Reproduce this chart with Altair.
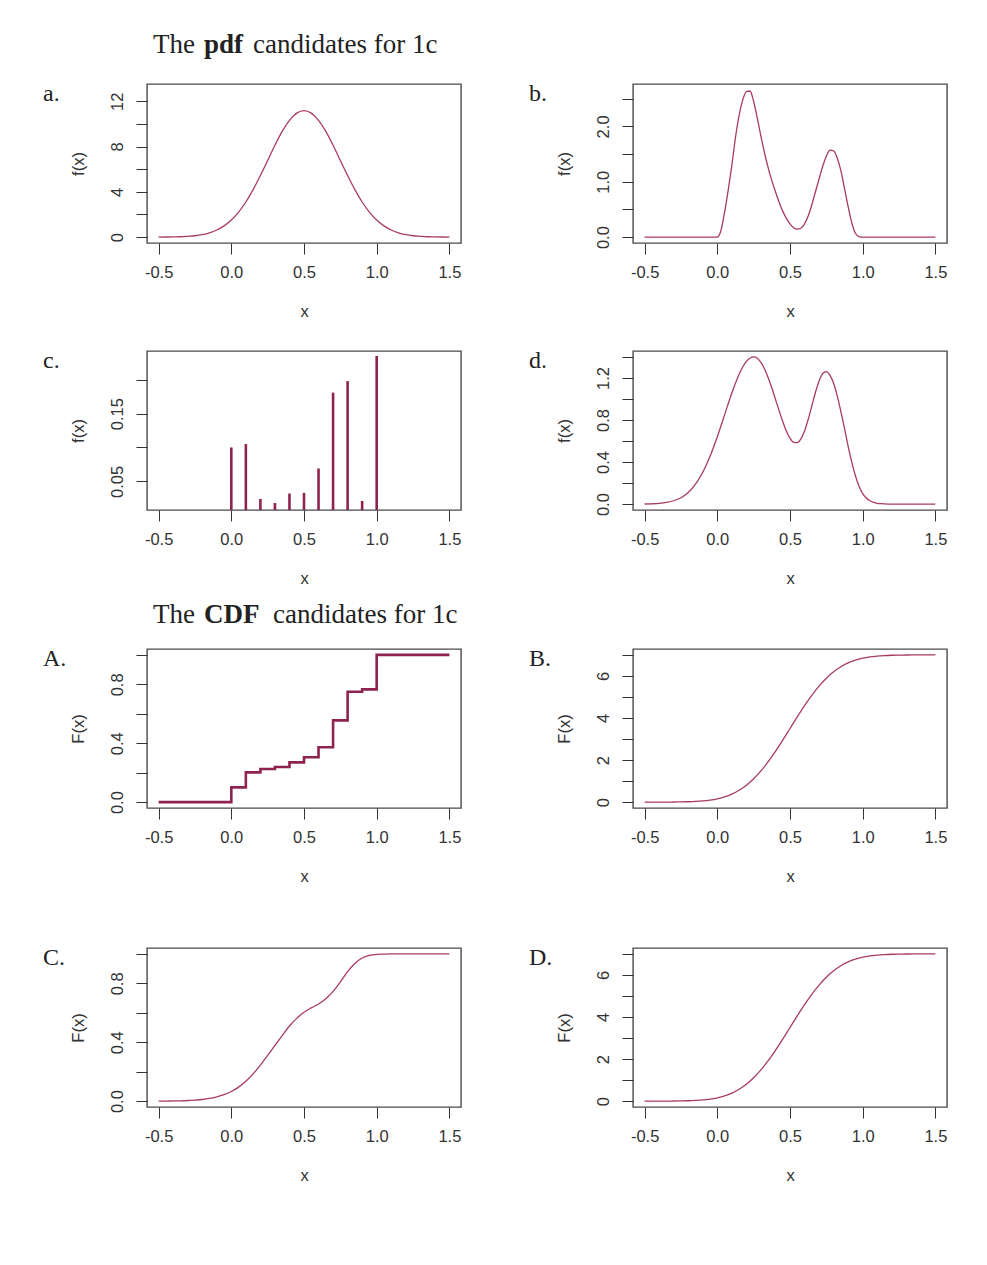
import altair as alt
import pandas as pd

SANS = "Liberation Sans"
SERIF = "Liberation Serif"
INK = "#333333"
THIN = "#A83A64"
THICK = "#8E2350"
W, H = 314, 159

x_domain = [-0.58, 1.58]
x_ticks = [-0.5, 0.0, 0.5, 1.0, 1.5]

grid05 = [-0.5, -0.45, -0.4, -0.35, -0.3, -0.25, -0.2, -0.15, -0.1, -0.05, 0.0,
          0.05, 0.1, 0.15, 0.2, 0.25, 0.3, 0.35, 0.4, 0.45, 0.5, 0.55, 0.6, 0.65,
          0.7, 0.75, 0.8, 0.85, 0.9, 0.95, 1.0, 1.05, 1.1, 1.15, 1.2, 1.25, 1.3,
          1.35, 1.4, 1.45, 1.5]

# ---- pdf a ----
a_x = grid05
a_y = [0.00, 0.01, 0.02, 0.03, 0.07, 0.12, 0.22, 0.38, 0.63, 0.99, 1.51, 2.21,
       3.10, 4.19, 5.44, 6.77, 8.11, 9.33, 10.31, 10.95, 11.17, 10.95, 10.31,
       9.33, 8.11, 6.77, 5.44, 4.19, 3.10, 2.21, 1.51, 0.99, 0.63, 0.38, 0.22,
       0.12, 0.07, 0.03, 0.02, 0.01, 0.00]

# ---- pdf b ----
b_x = [-0.5, -0.25, 0.0, 0.025, 0.05, 0.075, 0.1, 0.125, 0.15, 0.175, 0.2, 0.225,
       0.25, 0.275, 0.3, 0.325, 0.35, 0.375, 0.4, 0.425, 0.45, 0.475, 0.5, 0.525,
       0.55, 0.575, 0.6, 0.625, 0.65, 0.675, 0.7, 0.725, 0.75, 0.775, 0.8, 0.825,
       0.85, 0.875, 0.9, 0.925, 0.95, 0.975, 1.0, 1.25, 1.5]
b_y = [0, 0, 0, 0.12, 0.45, 0.85, 1.30, 1.80, 2.20, 2.48, 2.63, 2.64, 2.45, 2.15,
       1.82, 1.52, 1.25, 1.02, 0.82, 0.63, 0.47, 0.34, 0.24, 0.17, 0.145, 0.16,
       0.24, 0.38, 0.58, 0.82, 1.05, 1.28, 1.46, 1.57, 1.56, 1.43, 1.20, 0.88,
       0.55, 0.26, 0.07, 0.01, 0, 0, 0]

# ---- pmf c ----
c_x = [0.0, 0.1, 0.2, 0.3, 0.4, 0.5, 0.6, 0.7, 0.8, 0.9, 1.0]
c_y = [0.100, 0.105, 0.024, 0.018, 0.032, 0.033, 0.069, 0.181, 0.198, 0.021, 0.235]

# ---- pdf d ----
d_x = [-0.5, -0.45, -0.4, -0.35, -0.3, -0.25, -0.2, -0.15, -0.1, -0.05, 0.0, 0.05,
       0.1, 0.15, 0.2, 0.25, 0.275, 0.3, 0.325, 0.35, 0.375, 0.4, 0.425, 0.45,
       0.475, 0.5, 0.525, 0.55, 0.575, 0.6, 0.625, 0.65, 0.675, 0.7, 0.725, 0.75,
       0.775, 0.8, 0.825, 0.85, 0.875, 0.9, 0.925, 0.95, 0.975, 1.0, 1.025, 1.05,
       1.075, 1.1, 1.125, 1.15, 1.2, 1.3, 1.4, 1.5]
d_y = [0.001, 0.003, 0.007, 0.016, 0.032, 0.061, 0.111, 0.189, 0.303, 0.455,
       0.641, 0.849, 1.057, 1.235, 1.357, 1.400, 1.387, 1.347, 1.285, 1.202,
       1.104, 0.997, 0.889, 0.785, 0.695, 0.627, 0.588, 0.585, 0.621, 0.696,
       0.805, 0.933, 1.061, 1.170, 1.242, 1.260, 1.225, 1.150, 1.030, 0.880,
       0.720, 0.550, 0.400, 0.270, 0.170, 0.100, 0.058, 0.032, 0.017, 0.008,
       0.004, 0.002, 0.000, 0.000, 0.000, 0.000]

# ---- CDF A (step) ----
A_x = [-0.5, 0.0, 0.1, 0.2, 0.3, 0.4, 0.5, 0.6, 0.7, 0.8, 0.9, 1.0, 1.5]
A_y = [0.0, 0.1, 0.202, 0.225, 0.239, 0.27, 0.305, 0.373, 0.555, 0.75, 0.766, 1.0, 1.0]

# ---- CDF B ----
B_x = grid05
B_y = [0.000, 0.000, 0.001, 0.002, 0.005, 0.009, 0.018, 0.033, 0.057, 0.097,
       0.159, 0.251, 0.384, 0.566, 0.806, 1.111, 1.483, 1.920, 2.412, 2.945,
       3.500, 4.055, 4.588, 5.080, 5.517, 5.889, 6.194, 6.434, 6.616, 6.749,
       6.841, 6.903, 6.943, 6.967, 6.982, 6.991, 6.995, 6.998, 6.999, 7.000, 7.000]

# ---- CDF C ----
C_x = grid05
C_y = [0.000, 0.000, 0.001, 0.002, 0.004, 0.007, 0.011, 0.018, 0.029, 0.044,
       0.065, 0.095, 0.135, 0.185, 0.245, 0.310, 0.378, 0.445, 0.510, 0.562,
       0.603, 0.633, 0.660, 0.695, 0.745, 0.810, 0.880, 0.935, 0.972, 0.990,
       0.997, 0.999, 1.0, 1.0, 1.0, 1.0, 1.0, 1.0, 1.0, 1.0, 1.0]

# ---- CDF D ----
D_x = grid05
D_y = [0.000, 0.000, 0.001, 0.002, 0.005, 0.009, 0.018, 0.033, 0.057, 0.097,
       0.159, 0.251, 0.384, 0.566, 0.806, 1.111, 1.483, 1.920, 2.412, 2.945,
       3.500, 4.055, 4.588, 5.080, 5.517, 5.889, 6.194, 6.434, 6.616, 6.749,
       6.841, 6.903, 6.943, 6.967, 6.982, 6.991, 6.995, 6.998, 6.999, 7.000, 7.000]

XLAB = "(datum.value < 0 ? '-' : '') + format(abs(datum.value), '.1f')"


def ylab_expr(labeled, fmt):
    arr = "[" + ",".join(repr(v) for v in labeled) + "]"
    return f"indexof({arr}, datum.value) >= 0 ? format(datum.value, '{fmt}') : ''"


def panel(x, y, ydom, yticks, ylabeled, yfmt, ytitle, tag, top_room,
          kind="line", heading=None):
    df = pd.DataFrame({"x": x, "y": y, "base": [0.0] * len(x)})
    xenc = alt.X("x:Q", scale=alt.Scale(domain=x_domain, nice=False, zero=False),
                 axis=alt.Axis(values=x_ticks, labelExpr=XLAB, title="x",
                               titleY=68, titleBaseline="middle"))
    yenc = alt.Y("y:Q", scale=alt.Scale(domain=ydom, nice=False, zero=False),
                 axis=alt.Axis(values=yticks, labelExpr=ylab_expr(ylabeled, yfmt),
                               title=ytitle, titleX=-69, titleY=H / 2,
                               titleAngle=270, titleAlign="center",
                               titleBaseline="middle"))
    base = alt.Chart(df)
    if kind == "line":
        main = base.mark_line(color=THIN, strokeWidth=1.3, interpolate="monotone",
                              clip=True).encode(x=xenc, y=yenc)
    elif kind == "step":
        main = base.mark_line(color=THICK, strokeWidth=2.6, interpolate="step-after",
                              clip=True).encode(x=xenc, y=yenc)
    else:
        main = base.mark_rule(color=THICK, strokeWidth=2.6, clip=True).encode(
            x=xenc, y=yenc, y2="base:Q")
    # invisible frame that fixes how much room each panel takes around its box
    frame = alt.Chart(pd.DataFrame({"t": [tag]})).mark_rect(opacity=0).encode(
        x=alt.value(-110), x2=alt.value(W + 12),
        y=alt.value(-top_room), y2=alt.value(H + 82))
    tag_layer = alt.Chart(pd.DataFrame({"t": [tag]})).mark_text(
        align="left", baseline="alphabetic", font=SERIF, fontSize=24, color="#222222"
    ).encode(x=alt.value(-104), y=alt.value(17), text="t:N")
    layers = [main, frame, tag_layer]
    if heading is not None:
        word, bold_word, rest, rest_x, head_y = heading
        for txt, xx, wt in [(word, 6, "normal"), (bold_word, 57, "bold"),
                            (rest, rest_x, "normal")]:
            layers.append(
                alt.Chart(pd.DataFrame({"t": [txt]})).mark_text(
                    align="left", baseline="alphabetic", font=SERIF, fontSize=27,
                    fontWeight=wt, color="#222222"
                ).encode(x=alt.value(xx), y=alt.value(head_y), text="t:N")
            )
    return alt.layer(*layers).properties(width=W, height=H)


pa = panel(a_x, a_y, [-0.52, 13.52], [0, 2, 4, 6, 8, 10, 12], [0, 4, 8, 12], "d",
           "f(x)", "a.", 60,
           heading=("The", "pdf", "candidates for 1c", 106, -31.5))
pb = panel(b_x, b_y, [-0.106, 2.766], [0.0, 0.5, 1.0, 1.5, 2.0, 2.5],
           [0.0, 1.0, 2.0], ".1f", "f(x)", "b.", 60)
pc = panel(c_x, c_y, [0.0077, 0.2424], [0.05, 0.1, 0.15, 0.2], [0.05, 0.15], ".2f",
           "f(x)", "c.", 24, kind="rule")
pd_ = panel(d_x, d_y, [-0.056, 1.456], [0.0, 0.2, 0.4, 0.6, 0.8, 1.0, 1.2, 1.4],
            [0.0, 0.4, 0.8, 1.2], ".1f", "f(x)", "d.", 24)
pA = panel(A_x, A_y, [-0.04, 1.04], [0.0, 0.2, 0.4, 0.6, 0.8, 1.0],
           [0.0, 0.4, 0.8], ".1f", "F(x)", "A.", 55, kind="step",
           heading=("The", "CDF", "candidates for 1c", 126, -26.5))
pB = panel(B_x, B_y, [-0.28, 7.28], [0, 1, 2, 3, 4, 5, 6, 7], [0, 2, 4, 6], "d",
           "F(x)", "B.", 55)
pC = panel(C_x, C_y, [-0.04, 1.04], [0.0, 0.2, 0.4, 0.6, 0.8, 1.0],
           [0.0, 0.4, 0.8], ".1f", "F(x)", "C.", 56)
pD = panel(D_x, D_y, [-0.28, 7.28], [0, 1, 2, 3, 4, 5, 6, 7], [0, 2, 4, 6], "d",
           "F(x)", "D.", 56)

COLSP = 48
row1 = alt.hconcat(pa, pb, spacing=COLSP)
row2 = alt.hconcat(pc, pd_, spacing=COLSP)
row3 = alt.hconcat(pA, pB, spacing=COLSP)
row4 = alt.hconcat(pC, pD, spacing=COLSP)

chart = alt.vconcat(row1, row2, row3, row4, spacing=0).properties(
    padding={"left": 28, "top": 15, "right": 5, "bottom": 5}
).configure_view(
    stroke="#4a4a4a", strokeWidth=1.4
).configure_axis(
    domain=False, grid=False, tickColor=INK, tickSize=11, tickWidth=1,
    labelFont=SANS, labelFontSize=16.5, labelColor=INK, labelFlush=False,
    labelOverlap=False, titleFont=SANS, titleFontSize=16.5,
    titleFontWeight="normal", titleColor=INK
).configure_axisY(
    labelAngle=270, labelAlign="center", labelBaseline="alphabetic", labelPadding=14
).configure_axisX(
    labelAngle=0, labelBaseline="top", labelPadding=10
)

chart.save("out.html", embed_options={"renderer": "svg", "actions": False})
